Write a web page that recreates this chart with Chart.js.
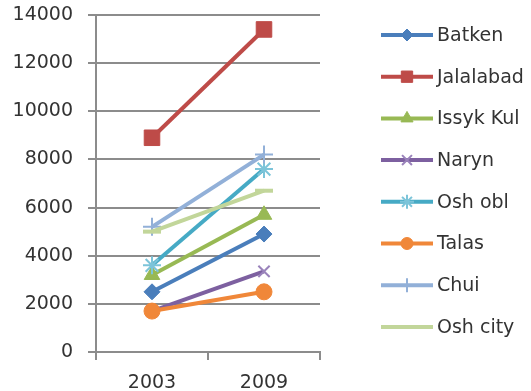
<!DOCTYPE html>
<html>
<head>
<meta charset="utf-8">
<script src="https://cdn.jsdelivr.net/npm/chart.js@4/dist/chart.umd.min.js"></script>
<style>
  html, body { margin: 0; padding: 0; background: #fff; }
  #wrap { width: 531px; height: 391px; }
</style>
</head>
<body>
<div id="wrap"><canvas id="regionChart" width="531" height="391"></canvas></div>
<script>
// data
const years = ["2003", "2009"];
const regions = ["Batken", "Jalalabad", "Issyk Kul", "Naryn", "Osh obl", "Talas", "Chui", "Osh city"];

const batken    = [2500, 4900];
const jalalabad = [8900, 13400];
const issykKul  = [3200, 5700];
const naryn     = [1700, 3350];
const oshObl    = [3600, 7600];
const talas     = [1700, 2500];
const chui      = [5200, 8200];
const oshCity   = [5000, 6700];

const yTicks = [0, 2000, 4000, 6000, 8000, 10000, 12000, 14000];

const seriesValues = [batken, jalalabad, issykKul, naryn, oshObl, talas, chui, oshCity];
const colors = ["#4a7ebb", "#be4b48", "#98b954", "#7d60a0", "#46aac5", "#f08739", "#92b0d8", "#c2d69a"];
const markerColors = ["#4a7ebb", "#be4b48", "#98b954", "#9a83bb", "#7cc4d9", "#f08739", "#92b0d8", "#c2d69a"];
const styles = ["rectRot", "rect", "triangle", "crossRot", "star", "circle", "cross", "line"];
const radii = [8, 11, 9, 8, 9, 8, 9, 9];
const legendRadii = [6, 8, 7, 7, 7, 6, 7, 0];

const textColor = "#333";
const gridColor = "#8c8c8c";
const FONT = "'DejaVu Sans', sans-serif";

const datasets = regions.map((name, i) => {
  const crossy = ["crossRot", "star", "cross", "line"].includes(styles[i]);
  return {
    label: name,
    data: seriesValues[i],
    borderColor: colors[i],
    backgroundColor: colors[i],
    borderWidth: 4,
    pointStyle: styles[i],
    pointRadius: radii[i],
    pointHoverRadius: radii[i],
    pointBackgroundColor: markerColors[i],
    pointBorderColor: markerColors[i],
    pointBorderWidth: crossy ? (styles[i] === "line" ? 4 : 2) : 1,
    tension: 0,
    clip: false,
    order: regions.length - i // later series drawn on top, like Excel
  };
});

// legend on the right, line with marker in the middle
const sideLegend = {
  id: "sideLegend",
  afterDraw(chart) {
    const ctx = chart.ctx;
    const helpers = Chart.helpers;
    ctx.save();
    regions.forEach((name, i) => {
      const y = 35 + i * 41.7;
      ctx.strokeStyle = colors[i];
      ctx.lineWidth = 4;
      ctx.beginPath();
      ctx.moveTo(381, y);
      ctx.lineTo(433, y);
      ctx.stroke();
      if (legendRadii[i] > 0 && helpers && helpers.drawPoint) {
        ctx.fillStyle = markerColors[i];
        ctx.strokeStyle = markerColors[i];
        ctx.lineWidth = ["crossRot", "star", "cross"].includes(styles[i]) ? 2 : 1;
        helpers.drawPoint(ctx, { pointStyle: styles[i], radius: legendRadii[i], rotation: 0, borderWidth: ctx.lineWidth }, 407, y);
      }
      ctx.fillStyle = textColor;
      ctx.font = "19px " + FONT;
      ctx.textAlign = "left";
      ctx.textBaseline = "middle";
      ctx.fillText(name, 437, y + 1);
    });
    ctx.restore();
  }
};

new Chart(document.getElementById("regionChart"), {
  type: "line",
  data: { labels: years, datasets: datasets },
  options: {
    responsive: false,
    animation: false,
    events: [],
    layout: { padding: { top: 15, right: 211, left: 0, bottom: 0 } },
    plugins: {
      legend: { display: false },
      tooltip: { enabled: false }
    },
    scales: {
      x: {
        offset: true,
        grid: {
          display: true,
          offset: true,
          drawOnChartArea: false,
          drawTicks: true,
          tickLength: 8,
          color: gridColor,
          lineWidth: 2
        },
        border: { display: true, color: gridColor, width: 2 },
        ticks: { color: textColor, font: { family: FONT, size: 19 }, padding: 12, maxRotation: 0 },
        afterFit: s => { s.height = 39; s.paddingLeft = 0; s.paddingRight = 0; }
      },
      y: {
        min: 0,
        max: 14000,
        afterBuildTicks: s => { s.ticks = yTicks.map(v => ({ value: v })); },
        grid: {
          color: gridColor,
          lineWidth: 2,
          tickLength: 8
        },
        border: { display: true, color: gridColor, width: 2 },
        ticks: {
          color: textColor,
          font: { family: FONT, size: 19 },
          padding: 15,
          callback: v => String(v)
        },
        afterFit: s => { s.width = 96; s.paddingTop = 0; s.paddingBottom = 0; }
      }
    }
  },
  plugins: [sideLegend]
});
</script>
</body>
</html>
